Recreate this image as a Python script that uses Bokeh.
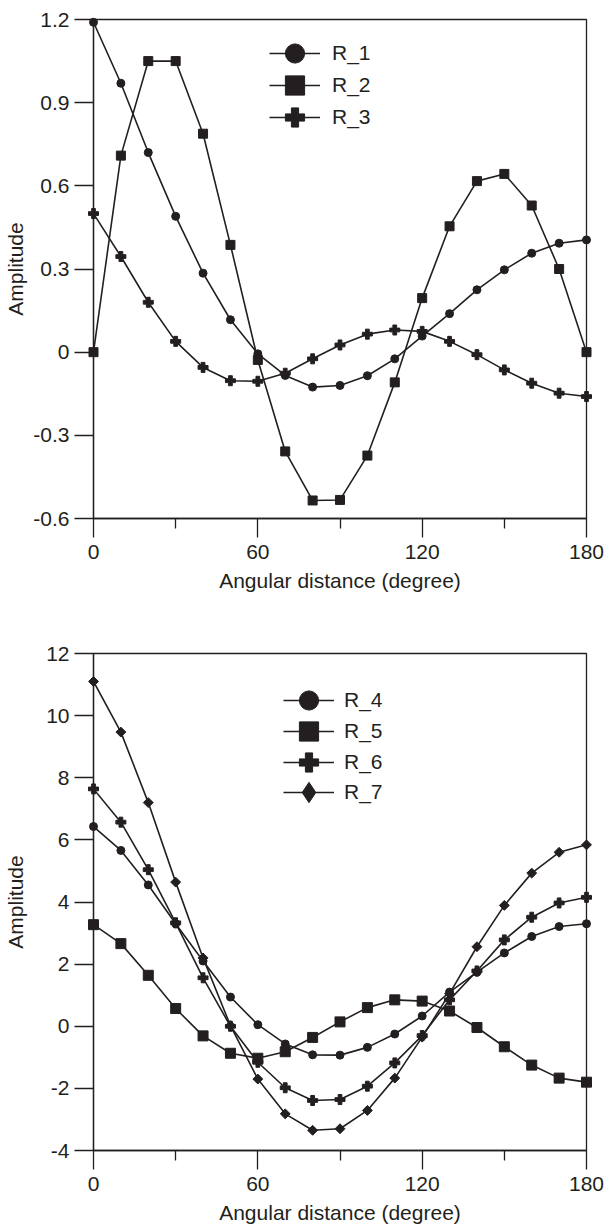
import math
from bokeh.plotting import figure
from bokeh.models import Range1d, FixedTicker, Legend, LegendItem
from bokeh.layouts import column
from bokeh.embed import file_html
from bokeh.resources import INLINE

# ---------------- data ----------------
angles = [0, 10, 20, 30, 40, 50, 60, 70, 80, 90, 100, 110, 120, 130, 140, 150, 160, 170, 180]

R_1 = [1.19, 0.97, 0.72, 0.49, 0.285, 0.117, -0.006, -0.084, -0.126, -0.12, -0.085,
       -0.024, 0.058, 0.139, 0.225, 0.297, 0.357, 0.393, 0.405]
R_2 = [0.0, 0.709, 1.05, 1.05, 0.788, 0.387, -0.028, -0.358, -0.535, -0.533, -0.373,
       -0.109, 0.195, 0.454, 0.617, 0.643, 0.529, 0.300, 0.0]
R_3 = [0.50, 0.345, 0.180, 0.039, -0.055, -0.103, -0.105, -0.076, -0.024, 0.026, 0.065,
       0.080, 0.075, 0.039, -0.009, -0.064, -0.112, -0.148, -0.160]

R_4 = [6.43, 5.66, 4.55, 3.30, 2.10, 0.94, 0.05, -0.57, -0.92, -0.93, -0.68, -0.25,
       0.33, 1.10, 1.74, 2.36, 2.89, 3.21, 3.30]
R_5 = [3.27, 2.66, 1.64, 0.57, -0.31, -0.87, -1.03, -0.82, -0.36, 0.14, 0.60, 0.85,
       0.81, 0.49, -0.04, -0.66, -1.25, -1.67, -1.80]
R_6 = [7.64, 6.57, 5.04, 3.33, 1.56, 0.0, -1.16, -1.98, -2.39, -2.36, -1.93, -1.18,
       -0.30, 0.85, 1.78, 2.78, 3.51, 3.97, 4.15]
R_7 = [11.10, 9.47, 7.20, 4.64, 2.20, 0.02, -1.70, -2.82, -3.35, -3.30, -2.71, -1.67,
       -0.35, 1.05, 2.56, 3.89, 4.93, 5.60, 5.84]

x_ticks = [0, 60, 120, 180]
x_minor = [30, 90, 150]
top_yticks = [-0.6, -0.3, 0, 0.3, 0.6, 0.9, 1.2]
top_ylabels = ["-0.6", "-0.3", "0", "0.3", "0.6", "0.9", "1.2"]
bot_yticks = [-4, -2, 0, 2, 4, 6, 8, 10, 12]
bot_ylabels = ["-4", "-2", "0", "2", "4", "6", "8", "10", "12"]

x_title = "Angular distance (degree)"
y_title = "Amplitude"

# ---------------- style ----------------
FONT = "Liberation Sans"
INK = "#231f20"
FS = "21px"
NAN = float("nan")


def make_fig(height, yrange, yticks, ylabels, left, right, top, bottom, ylab_standoff):
    p = figure(width=610, height=height,
               x_range=Range1d(0, 180), y_range=Range1d(*yrange),
               output_backend="svg", toolbar_location=None,
               min_border_left=left, min_border_right=right,
               min_border_top=top, min_border_bottom=bottom)
    p.xgrid.visible = False
    p.ygrid.visible = False
    p.outline_line_color = INK
    p.outline_line_width = 1.3
    p.outline_line_alpha = 1.0
    p.background_fill_color = "white"
    p.border_fill_color = "white"

    xa = p.xaxis[0]
    xa.ticker = FixedTicker(ticks=x_ticks, minor_ticks=x_minor)
    ya = p.yaxis[0]
    ya.ticker = FixedTicker(ticks=yticks, minor_ticks=[])
    ya.major_label_overrides = {t: s for t, s in zip(yticks, ylabels)}

    for ax in (xa, ya):
        ax.axis_line_color = INK
        ax.axis_line_width = 1.3
        ax.major_tick_line_color = INK
        ax.major_tick_line_width = 1.3
        ax.minor_tick_line_color = INK
        ax.minor_tick_line_width = 1.3
        ax.major_tick_in = 0
        ax.major_tick_out = 19
        ax.minor_tick_in = 0
        ax.minor_tick_out = 10
        ax.major_label_text_font = FONT
        ax.major_label_text_font_size = FS
        ax.major_label_text_color = INK
        ax.axis_label_text_font = FONT
        ax.axis_label_text_font_size = FS
        ax.axis_label_text_font_style = "normal"
        ax.axis_label_text_color = INK
    xa.axis_label = x_title
    ya.axis_label = y_title
    xa.major_label_standoff = 7
    xa.axis_label_standoff = 7
    ya.major_label_standoff = 5
    ya.axis_label_standoff = ylab_standoff
    return p


def add_series(p, ys, marker, size, angle=0.0):
    ln = p.line(angles, ys, line_color=INK, line_width=1.6)
    sc = p.scatter(angles, ys, marker=marker, size=size, angle=angle,
                   fill_color=INK, line_color=INK, line_width=1, level="overlay")
    return ln, sc


def add_key(p, label, renderers, x0, yc, gh, standoff):
    leg = Legend(items=[LegendItem(label=label, renderers=list(renderers))],
                 location=(x0, yc - gh / 2), orientation="vertical",
                 glyph_width=51, glyph_height=gh, label_height=gh,
                 label_standoff=standoff, padding=0, margin=0, spacing=0,
                 border_line_color=None, background_fill_alpha=0,
                 label_text_font=FONT, label_text_font_size=FS,
                 label_text_color=INK)
    p.add_layout(leg)


# ---------------- top panel ----------------
p1 = make_fig(643, (-0.6, 1.2), top_yticks, top_ylabels, 93, 18, 19, 125, 3)
r1 = add_series(p1, R_1, "circle", 8)
r2 = add_series(p1, R_2, "square", 9)
r3 = add_series(p1, R_3, "plus", 10)
add_key(p1, "R_1", r1, 176, 465, 48, 12)
add_key(p1, "R_2", r2, 176, 433, 48, 12)
add_key(p1, "R_3", r3, 176, 401, 48, 12)

# ---------------- bottom panel ----------------
p2 = make_fig(583, (-4, 12), bot_yticks, bot_ylabels, 87, 24, 10, 74, 16)
r4 = add_series(p2, R_4, "circle", 8)
r5 = add_series(p2, R_5, "square", 10)
r6 = add_series(p2, R_6, "plus", 10)
r7 = add_series(p2, R_7, "square", 7, angle=math.pi / 4)
key7 = p2.scatter([NAN], [NAN], marker="diamond", size=10,
                  fill_color=INK, line_color=INK, line_width=1)
add_key(p2, "R_4", r4, 190, 450, 48, 10)
add_key(p2, "R_5", r5, 190, 419, 48, 10)
add_key(p2, "R_6", r6, 190, 388, 48, 10)
add_key(p2, "R_7", [r7[0], key7], 190, 358, 56, 10)

layout = column(p1, p2, spacing=0)
open("out.html", "w").write(file_html(layout, INLINE))
